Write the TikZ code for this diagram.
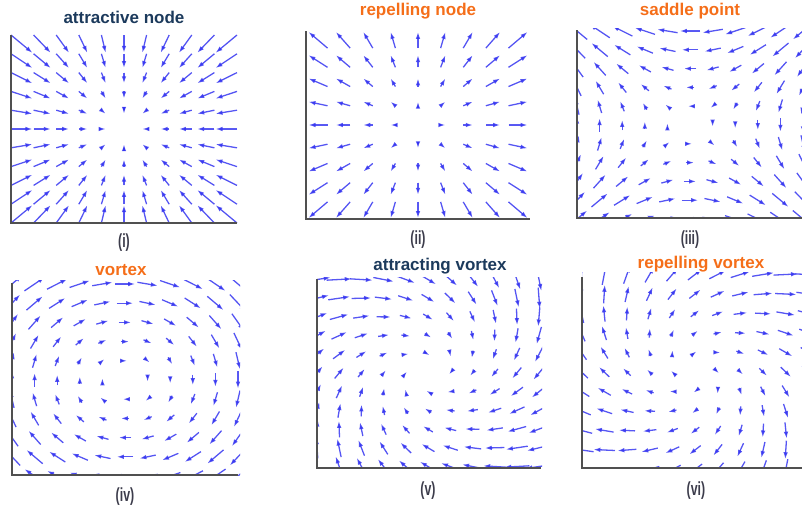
\documentclass[tikz,border=0pt]{standalone}
\usepackage{fontspec}
\setmainfont{Liberation Sans}
\usepackage{tikz}
\usetikzlibrary{arrows.meta}
\definecolor{fieldBlue}{RGB}{50,50,240}
\definecolor{titleNavy}{RGB}{28,58,92}
\definecolor{titleOrange}{RGB}{245,110,25}
\definecolor{axisGray}{RGB}{80,80,80}
\definecolor{labelGray}{RGB}{60,60,75}
\tikzset{
  fieldArrow/.style={-{Latex[length=7pt,width=4.6pt]}, draw=fieldBlue, fill=fieldBlue, line width=1.3pt, opacity=0.8},
  axisLine/.style={draw=axisGray, line width=1.4pt},
  titleDark/.style={anchor=base, text=titleNavy, font=\fontsize{17}{17}\selectfont\bfseries, inner sep=0pt},
  titleBright/.style={anchor=base, text=titleOrange, font=\fontsize{17}{17}\selectfont\bfseries, inner sep=0pt},
  panelLabel/.style={text=labelGray, font=\fontsize{19}{19}\selectfont\bfseries, inner sep=0pt}
}
% cx, cy, dx, dy, half count, scale, vx, vy, shift (0 = tail on grid, 0.5 = centred)
\newcommand{\fieldpanel}[9]{%
  \foreach \i in {-#5,...,#5}
    \foreach \j in {-#5,...,#5} {
      \pgfmathsetmacro\vx{#7}
      \pgfmathsetmacro\vy{#8}
      \pgfmathsetmacro\vl{veclen(\vx,\vy)}
      \ifdim\vl pt>0.01pt
        \draw[fieldArrow] ({#1+#3*(\i)-#9*#6*#3*(\vx)},{#2-#4*(\j)+#9*#6*#4*(\vy)})
          -- ++({#6*#3*(\vx)},{-#6*#4*(\vy)});
      \fi
    }}
\newcommand{\panelname}[1]{\scalebox{0.65}[1]{#1}}

\begin{document}
\begin{tikzpicture}[x=1pt, y=-1pt]
  \useasboundingbox (0,0) rectangle (802,514);

  % (i) attractive node
  \begin{scope}
    \clip (9,32) rectangle (239,225);
    \fieldpanel{124}{129}{22.6}{18.8}{5}{0.19}{-(\i)}{-(\j)}{0}
  \end{scope}
  \draw[axisLine] (11,35) -- (11,223) -- (237,223);
  \node[titleDark] (titleAttr) at (124,23) {attractive node};
  \node[panelLabel] (labelOne) at (124,243) {\panelname{(i)}};

  % (ii) repelling node
  \begin{scope}
    \clip (306,28) rectangle (532,219);
    \fieldpanel{418}{125}{25}{21.25}{4}{0.19}{(\i)}{(\j)}{0.5}
  \end{scope}
  \draw[axisLine] (306,31) -- (306,219) -- (530,219);
  \node[titleBright] (titleRep) at (418,16) {repelling node};
  \node[panelLabel] (labelTwo) at (418,240) {\panelname{(ii)}};

  % (iii) saddle point
  \begin{scope}
    \clip (577,28) rectangle (802,218);
    \fieldpanel{690}{125}{22.6}{18.8}{5}{0.18}{-(\j)}{-(\i)}{0.5}
  \end{scope}
  \draw[axisLine] (577,30) -- (577,218) -- (802,218);
  \node[titleBright] (titleSaddle) at (690,15) {saddle point};
  \node[panelLabel] (labelThree) at (690,240) {\panelname{(iii)}};

  % (iv) vortex
  \begin{scope}
    \clip (12,280) rectangle (240,475);
    \fieldpanel{125}{380}{22.6}{19.2}{5}{0.18}{(\j)}{-(\i)}{0.5}
  \end{scope}
  \draw[axisLine] (12,283) -- (12,475) -- (238,475);
  \node[titleBright] (titleVortex) at (121,275) {vortex};
  \node[panelLabel] (labelFour) at (125,497) {\panelname{(iv)}};

  % (v) attracting vortex
  \begin{scope}
    \clip (317,277) rectangle (542,468);
    \fieldpanel{428}{373}{22.2}{18.7}{5}{0.145}{(\j)-0.7*(\i)}{-(\i)-0.7*(\j)}{0.5}
  \end{scope}
  \draw[axisLine] (317,279) -- (317,468) -- (541,468);
  \node[titleDark] (titleAttrVortex) at (440,270) {attracting vortex};
  \node[panelLabel] (labelFive) at (428,491) {\panelname{(v)}};

  % (vi) repelling vortex
  \begin{scope}
    \clip (582,272) rectangle (802,468);
    \fieldpanel{695}{372}{22.7}{19.5}{5}{0.125}{(\j)+0.9*(\i)}{-(\i)+0.9*(\j)}{0.5}
  \end{scope}
  \draw[axisLine] (582,277) -- (582,468) -- (802,468);
  \node[titleBright] (titleRepVortex) at (701,268) {repelling vortex};
  \node[panelLabel] (labelSix) at (696,491) {\panelname{(vi)}};
\end{tikzpicture}
\end{document}
